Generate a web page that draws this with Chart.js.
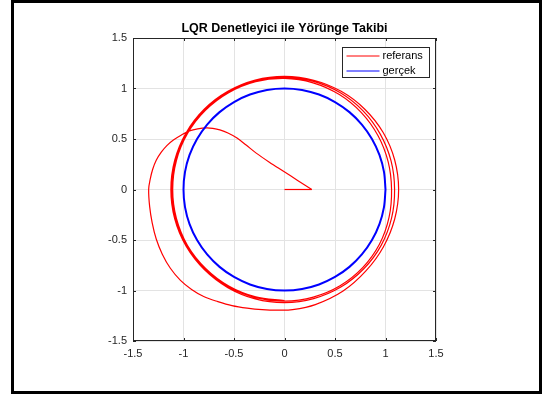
<!DOCTYPE html>
<html>
<head>
<meta charset="utf-8">
<script src="https://cdn.jsdelivr.net/npm/chart.js@4.4.0/dist/chart.umd.min.js"></script>
<style>
  body { margin: 0; background: #fff; }
  #kutu { position: relative; width: 542px; height: 394px; }
  #cerceve { position: absolute; left: 11px; top: 0; width: 531px; height: 394px; border: 3px solid #000; box-sizing: border-box; pointer-events: none; }
</style>
</head>
<body>
<div id="kutu">
  <canvas id="grafik" width="542" height="394"></canvas>
  <div id="cerceve"></div>
</div>
<script>
// eksen degerleri ve etiketleri
var eksenDegerleri = [-1.5, -1, -0.5, 0, 0.5, 1, 1.5];
var eksenEtiketleri = ['-1.5', '-1', '-0.5', '0', '0.5', '1', '1.5'];

var baslik = 'LQR Denetleyici ile Yörünge Takibi';
var seriAdlari = ['referans', 'gerçek'];

// birim cember (10 derece aralikla)
var gercekX = [1, 0.985, 0.940, 0.866, 0.766, 0.643, 0.5, 0.342, 0.174, 0,
  -0.174, -0.342, -0.5, -0.643, -0.766, -0.866, -0.940, -0.985, -1,
  -0.985, -0.940, -0.866, -0.766, -0.643, -0.5, -0.342, -0.174, 0,
  0.174, 0.342, 0.5, 0.643, 0.766, 0.866, 0.940, 0.985, 1];
var gercekY = [0, 0.174, 0.342, 0.5, 0.643, 0.766, 0.866, 0.940, 0.985, 1,
  0.985, 0.940, 0.866, 0.766, 0.643, 0.5, 0.342, 0.174, 0,
  -0.174, -0.342, -0.5, -0.643, -0.766, -0.866, -0.940, -0.985, -1,
  -0.985, -0.940, -0.866, -0.766, -0.643, -0.5, -0.342, -0.174, 0];

// baslangic parcasi
var baslangicX = [0, 0.27];
var baslangicY = [0, 0];

// izlenen yorunge [x, y]
var referansNoktalari = [
  // ilk tur
  [0.27, 0], [0.13, 0.09], [-0.01, 0.18], [-0.15, 0.27], [-0.28, 0.36],
  [-0.38, 0.44], [-0.47, 0.51], [-0.56, 0.56], [-0.64, 0.59], [-0.71, 0.605],
  [-0.77, 0.61], [-0.86, 0.60], [-0.94, 0.58], [-1.02, 0.54], [-1.10, 0.49],
  [-1.165, 0.435], [-1.22, 0.37], [-1.27, 0.29], [-1.305, 0.2], [-1.33, 0.1],
  [-1.345, 0], [-1.335, -0.17], [-1.31, -0.33], [-1.27, -0.49], [-1.21, -0.64],
  [-1.13, -0.78], [-1.03, -0.90], [-0.92, -0.99], [-0.80, -1.06], [-0.66, -1.11],
  [-0.52, -1.15], [-0.37, -1.175], [-0.22, -1.19], [-0.07, -1.195], [0.08, -1.19],
  [0.305, -1.14], [0.58, -1.005], [0.806, -0.806], [0.98, -0.566], [1.091, -0.292],
  [1.13, 0], [1.091, 0.292], [0.977, 0.564], [0.795, 0.795], [0.561, 0.972],
  [0.29, 1.082], [0, 1.12], [-0.29, 1.083], [-0.561, 0.972], [-0.795, 0.795],
  [-0.974, 0.5625], [-1.087, 0.291], [-1.125, 0], [-1.087, -0.291], [-0.974, -0.5625],
  [-0.794, -0.794], [-0.561, -0.972], [-0.29, -1.083], [0, -1.12],
  // ikinci tur
  [0.289, -1.08], [0.558, -0.966], [0.785, -0.785], [0.957, -0.553], [1.06, -0.284],
  [1.09, 0], [1.055, 0.283], [0.948, 0.548], [0.778, 0.778], [0.553, 0.957],
  [0.287, 1.07], [0, 1.11], [-0.288, 1.075], [-0.558, 0.966], [-0.79, 0.79],
  [-0.966, 0.5575], [-1.077, 0.289], [-1.115, 0], [-1.077, -0.289], [-0.966, -0.5575],
  [-0.788, -0.788], [-0.556, -0.963], [-0.287, -1.07], [0, -1.105],
  // ucuncu tur
  [0.285, -1.065], [0.55, -0.953], [0.774, -0.774], [0.94, -0.543], [1.035, -0.277],
  [1.06, 0], [1.026, 0.275], [0.925, 0.534], [0.761, 0.761], [0.543, 0.94],
  [0.283, 1.056], [0, 1.10], [-0.286, 1.067], [-0.553, 0.958], [-0.783, 0.783],
  [-0.96, 0.554], [-1.07, 0.287], [-1.107, 0], [-1.07, -0.287], [-0.96, -0.554],
  [-0.781, -0.781], [-0.552, -0.955], [-0.285, -1.063], [0, -1.10]
];

var yazi = '"Liberation Sans", Arial, Helvetica, sans-serif';
var koyu = '#262626';

function noktalar(xs, ys) {
  return xs.map(function(x, i) { return {x: x, y: ys[i]}; });
}

// eksen kutusu, iceri bakan cizgiler ve lejant
var kutuEklentisi = {
  id: 'kutuEklentisi',
  afterDraw: function(chart) {
    var ctx = chart.ctx;
    var a = chart.chartArea;
    var sx = chart.scales.x, sy = chart.scales.y;
    ctx.save();
    ctx.strokeStyle = koyu;
    ctx.lineWidth = 1;
    ctx.strokeRect(Math.round(a.left) + 0.5, Math.round(a.top) + 0.5,
      Math.round(a.right - a.left) - 1, Math.round(a.bottom - a.top) - 1);
    ctx.beginPath();
    eksenDegerleri.forEach(function(v) {
      var px = Math.round(sx.getPixelForValue(v)) + 0.5;
      var py = Math.round(sy.getPixelForValue(v)) + 0.5;
      ctx.moveTo(px, a.bottom); ctx.lineTo(px, a.bottom - 3);
      ctx.moveTo(px, a.top); ctx.lineTo(px, a.top + 3);
      ctx.moveTo(a.left, py); ctx.lineTo(a.left + 3, py);
      ctx.moveTo(a.right, py); ctx.lineTo(a.right - 3, py);
    });
    ctx.stroke();

    // lejant
    var lx = 342.5, ly = 47.5, lw = 87, lh = 30;
    ctx.fillStyle = '#fff';
    ctx.fillRect(lx, ly, lw, lh);
    ctx.strokeStyle = koyu;
    ctx.strokeRect(lx, ly, lw, lh);
    var renkler = ['#ff0000', '#0000ff'];
    ctx.font = '11px ' + yazi;
    ctx.textBaseline = 'middle';
    seriAdlari.forEach(function(ad, i) {
      var y = ly + 8.5 + i * 15;
      ctx.strokeStyle = renkler[i];
      ctx.beginPath();
      ctx.moveTo(lx + 4, y); ctx.lineTo(lx + 37, y);
      ctx.stroke();
      ctx.fillStyle = '#000';
      ctx.fillText(ad, lx + 40, y);
    });
    ctx.restore();
  }
};

function eksen(genislik, yukseklik) {
  return {
    type: 'linear',
    min: -1.5,
    max: 1.5,
    afterBuildTicks: function(s) {
      s.ticks = eksenDegerleri.map(function(v) { return {value: v}; });
    },
    afterFit: function(s) {
      if (genislik) s.width = genislik;
      if (yukseklik) s.height = yukseklik;
    },
    grid: { color: '#e3e3e3', drawTicks: false },
    border: { display: false },
    ticks: {
      padding: 6,
      color: koyu,
      font: { family: yazi, size: 11 },
      callback: function(v, i) { return eksenEtiketleri[i]; }
    }
  };
}

new Chart(document.getElementById('grafik'), {
  type: 'line',
  data: {
    datasets: [{
      label: seriAdlari[1],
      data: noktalar(gercekX, gercekY),
      borderColor: '#0000ff',
      borderWidth: 2,
      tension: 0.33,
      order: 0
    }, {
      label: seriAdlari[0],
      data: referansNoktalari.map(function(p) { return {x: p[0], y: p[1]}; }),
      borderColor: '#ff0000',
      borderWidth: 1.2,
      tension: 0.33,
      order: 1
    }, {
      label: 'baslangic',
      data: noktalar(baslangicX, baslangicY),
      borderColor: '#ff0000',
      borderWidth: 1.2,
      tension: 0,
      order: 2
    }]
  },
  options: {
    responsive: false,
    animation: false,
    fill: false,
    elements: { point: { radius: 0, hoverRadius: 0 } },
    layout: { padding: { left: 0, right: 106, top: 0, bottom: 0 } },
    scales: {
      x: eksen(0, 53),
      y: eksen(133, 0)
    },
    plugins: {
      legend: { display: false },
      tooltip: { enabled: false },
      title: {
        display: true,
        text: baslik,
        fullSize: false,
        color: '#000',
        font: { family: yazi, size: 12.5, weight: 'bold' },
        padding: { top: 21, bottom: 2 }
      }
    }
  },
  plugins: [kutuEklentisi]
});
</script>
</body>
</html>
